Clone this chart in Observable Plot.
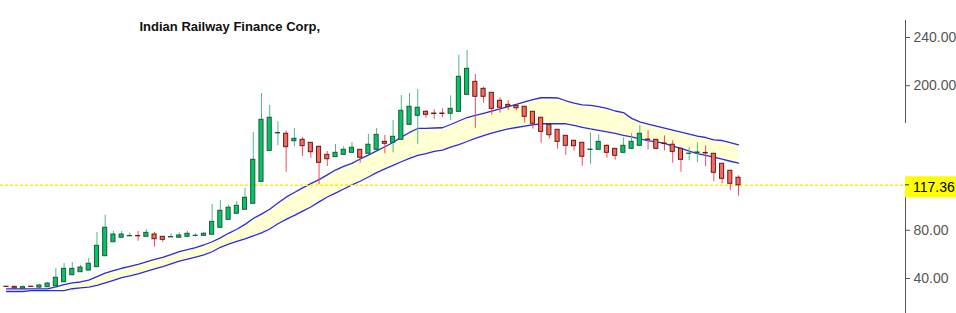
<!DOCTYPE html>
<html><head><meta charset="utf-8">
<script src="https://cdn.jsdelivr.net/npm/d3@7"></script>
<script src="https://cdn.jsdelivr.net/npm/@observablehq/plot@0.6"></script>
<style>html,body{margin:0;padding:0;background:#fff;overflow:hidden;}</style>
</head><body><div id="chart"></div>
<script>
const title = "Indian Railway Finance Corp,";
const opens = [33.2,33.1,31.5,33.2,32.4,32.8,33.6,36.9,42.7,45.2,
46.6,49.4,58.5,70.1,73.8,75.0,75.3,74.6,76.5,74.6,
74.1,73.8,74.6,75.3,75.4,76.3,82.1,88.7,93.7,97.0,
102.0,120.2,145.9,160.4,160.1,153.9,155.1,152.6,149.3,142.6,
140.7,142.6,144.3,146.8,143.5,146.8,153.4,152.6,155.1,167.5,
175.0,178.3,176.9,176.9,176.7,178.3,192.4,203.2,197.4,194.1,
187.5,184.1,183.3,182.5,178.3,173.4,167.5,163.4,158.4,154.3,
152.6,146.7,146.8,150.1,147.6,144.3,147.6,150.1,155.3,155.1,
152.0,151.0,147.6,143.4,144.1,144.2,143.5,135.2,129.4,123.6];
const highs = [33.3,33.2,34.0,33.2,35.0,36.7,48.3,52.4,53.2,50.8,
56.6,78.2,92.5,79.2,79.0,77.6,79.0,80.6,78.2,74.8,
77.1,77.9,79.0,77.1,78.2,101.4,104.7,100.6,103.9,114.7,
161.1,193.5,183.6,170.0,162.2,164.5,157.0,152.8,149.5,145.4,
151.2,149.5,152.9,147.0,159.5,164.5,158.7,171.1,191.9,193.5,
196.8,179.4,180.0,180.8,191.6,225.3,229.2,209.3,198.7,194.3,
190.0,187.5,184.1,182.7,178.5,173.6,167.7,163.6,158.6,154.5,
152.8,160.9,159.2,150.9,147.8,156.8,160.3,167.0,162.6,155.3,
158.4,154.3,147.8,148.5,152.6,150.1,143.7,135.4,129.6,125.2];
const lows = [32.9,31.7,31.4,32.9,32.2,32.6,33.4,36.7,42.5,45.0,
46.4,49.2,58.3,70.0,73.6,74.8,70.9,74.4,66.0,70.1,
74.0,73.6,74.4,74.3,75.2,76.1,81.9,88.5,93.5,96.8,
101.8,120.0,145.7,150.1,128.2,149.5,141.2,139.8,117.7,132.9,
140.5,142.4,144.1,135.7,143.3,146.6,143.5,144.3,154.9,167.3,
151.4,173.0,172.2,173.4,170.9,178.1,192.2,164.7,185.5,175.5,
177.2,179.2,179.2,168.9,163.9,152.3,155.6,147.3,142.3,145.6,
133.2,134.8,146.6,139.8,138.2,144.1,147.4,149.9,146.8,146.8,
145.9,135.7,128.2,137.7,136.0,132.7,120.2,118.6,112.8,108.3];
const closes = [33.0,31.8,32.8,33.0,34.2,35.8,40.6,48.0,48.0,49.1,
52.2,67.1,82.1,76.5,76.5,75.3,75.0,77.9,72.6,72.1,
74.4,75.7,77.1,75.5,77.1,87.0,96.2,98.7,100.3,107.0,
138.5,171.7,173.4,160.8,149.0,155.9,149.8,144.8,136.0,139.0,
144.3,146.8,148.5,140.2,151.0,159.2,151.8,157.6,179.2,182.5,
181.7,175.8,176.5,176.5,180.8,207.4,214.0,190.8,190.8,180.8,
181.7,182.5,181.3,174.2,168.4,161.7,158.9,153.4,150.1,149.8,
141.0,147.0,153.4,144.3,141.8,150.1,153.4,160.1,155.0,147.6,
151.6,145.1,138.5,143.6,144.6,143.8,127.7,122.7,118.6,117.36];
const upperBand = [31.4,31.4,31.4,31.4,31.4,31.4,33.1,35.0,36.3,37.1,
38.6,41.6,44.4,46.6,48.5,50.1,51.7,53.7,55.8,57.5,
59.9,62.3,63.9,65.7,67.8,70.5,73.7,77.5,80.9,84.9,
89.8,93.4,97.5,102.6,107.5,111.4,115.2,118.7,122.1,126.0,
130.0,133.0,135.5,139.2,142.4,145.9,149.3,152.9,157.3,161.2,
164.5,164.6,164.9,165.1,167.8,170.7,173.6,175.4,177.1,178.9,
180.7,182.6,184.5,186.5,188.4,190.0,190.0,189.8,187.5,185.6,
184.1,183.6,182.7,181.2,179.0,177.7,172.9,170.0,168.2,166.5,
164.8,163.1,161.5,159.8,158.2,157.0,155.1,154.5,152.7,150.9];
const lowerBand = [29.2,29.2,29.2,30.0,30.0,30.0,30.0,30.0,31.5,32.3,
32.9,34.2,36.3,38.5,40.7,42.2,43.9,46.0,48.0,49.8,
52.1,54.5,56.1,57.8,59.6,62.2,65.9,68.6,70.8,72.8,
75.4,77.8,81.1,85.4,89.1,92.4,95.9,99.3,103.6,107.6,
110.9,114.3,117.7,120.7,124.2,127.9,130.9,133.8,136.9,139.7,
142.1,143.7,145.5,146.5,149.0,151.1,153.7,156.3,158.5,160.6,
162.6,164.1,165.3,166.5,167.6,168.4,168.4,168.4,168.4,167.0,
165.5,164.1,163.0,161.7,160.4,158.8,157.5,155.9,154.5,153.4,
152.2,149.9,147.9,145.7,143.7,142.2,140.7,139.0,137.3,135.7];
const yTicks = [40, 80, 200, 240];
const lastPrice = 117.36;

const xDomain = [-0.73, 109.3];
const yDomain = [10.95, 270.7];

const candles = opens.map((o, i) => ({i, open: o, high: highs[i], low: lows[i], close: closes[i], up: closes[i] >= o}));
const bands = upperBand.map((u, i) => ({i, upper: u, lower: lowerBand[i]}));

const plot = Plot.plot({
  width: 956, height: 313,
  marginLeft: 0, marginRight: 51, marginTop: 0, marginBottom: 0,
  style: {fontFamily: "'Liberation Sans', Arial, sans-serif", background: "#fff", overflow: "visible"},
  x: {domain: xDomain, axis: null},
  y: {domain: yDomain, axis: null},
  color: {type: "identity"},
  marks: [
    Plot.areaY(bands, {x: "i", y1: "lower", y2: "upper", fill: "#ffffd4"}),
    Plot.lineY(bands, {x: "i", y: "upper", stroke: "#2b2be6", strokeWidth: 1.3}),
    Plot.lineY(bands, {x: "i", y: "lower", stroke: "#2b2be6", strokeWidth: 1.3}),
    Plot.ruleY([lastPrice], {stroke: "#ffee00", strokeDasharray: "3,2", strokeWidth: 1.4}),
    Plot.ruleX(candles, {x: "i", y1: "low", y2: "high", stroke: d => d.up ? "#4dbb86" : "#f24a5a", strokeWidth: 1}),
    Plot.rect(candles, {
      x1: d => d.i - 0.25, x2: d => d.i + 0.25, y1: "open", y2: "close",
      fill: d => d.up ? "#05c466" : "#f86a5e",
      stroke: d => d.up ? "#1d5a3a" : "#6a1818", strokeWidth: 1
    }),
    Plot.ruleX([xDomain[1]], {y1: yDomain[1] - 16.6, y2: 168.6, stroke: "#555"}),
    Plot.ruleX([xDomain[1]], {y1: 107.2, y2: yDomain[0], stroke: "#555"}),
    Plot.axisY({anchor: "right", ticks: yTicks, tickFormat: d => d.toFixed(2), tickSize: 4, tickPadding: 4, fontSize: 14, color: "#555"}),
    Plot.text([title], {frameAnchor: "top-left", dx: 139, dy: 21, lineAnchor: "top", textAnchor: "start", fontWeight: "bold", fontSize: 13, fill: "#111"})
  ]
});

const svg = d3.select(plot);
const py = plot.scale("y").apply(lastPrice);
const px = plot.scale("x").apply(xDomain[1]);
const g = svg.append("g");
g.append("rect").attr("x", px).attr("y", py - 8.5).attr("width", 956 - px).attr("height", 21).attr("fill", "#ffff00");
g.append("line").attr("x1", px).attr("x2", px + 4).attr("y1", py).attr("y2", py).attr("stroke", "#333");
g.append("text").attr("x", px + 8).attr("y", py + 2).attr("dy", "0.35em").attr("text-anchor", "start")
  .attr("font-size", 14).attr("fill", "#000").text(lastPrice.toFixed(2));

document.getElementById("chart").appendChild(plot);
</script>
</body></html>
